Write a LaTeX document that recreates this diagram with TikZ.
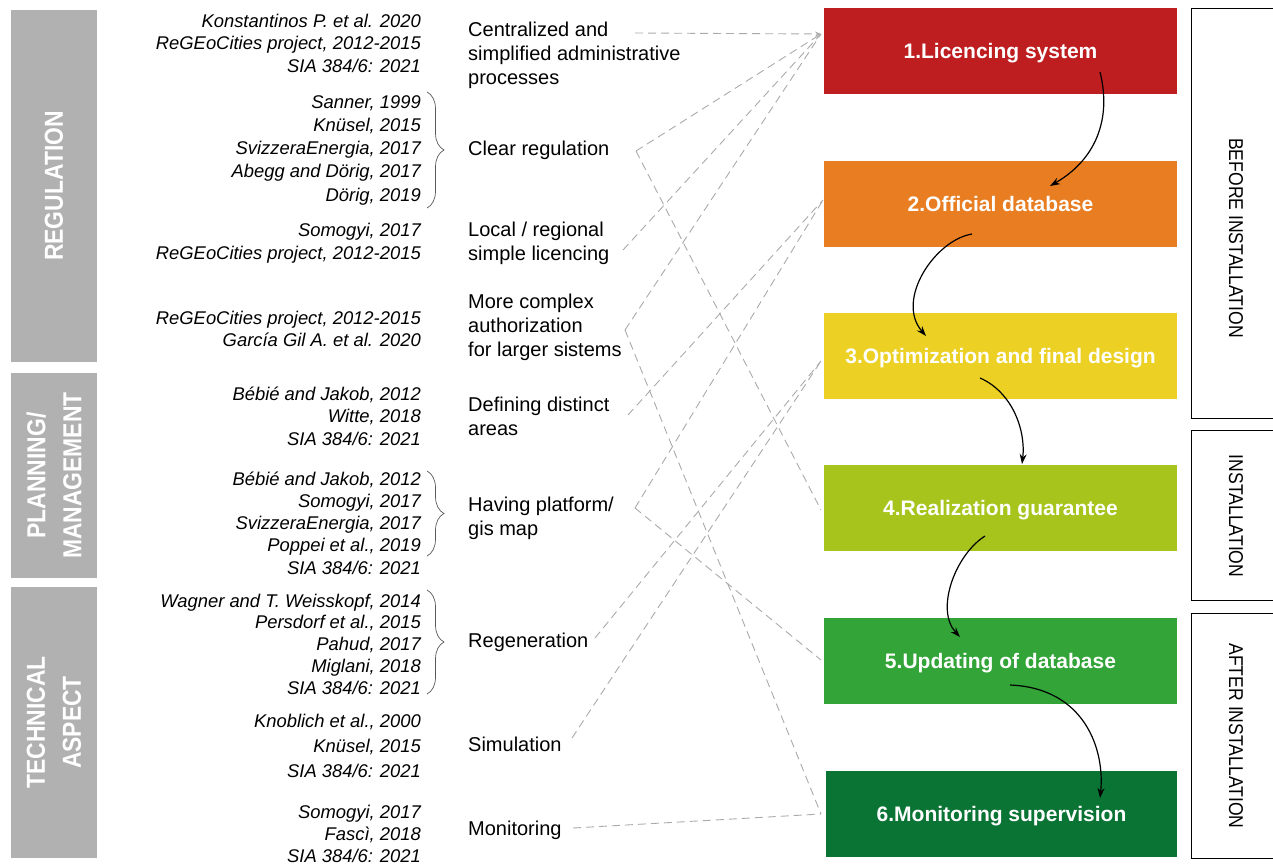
\documentclass[tikz,border=0pt]{standalone}
\usepackage{fontspec}
\setmainfont{Liberation Sans}
\newfontfamily\condfont[FakeStretch=0.88]{Liberation Sans}
\usetikzlibrary{decorations.pathreplacing,arrows.meta}
\definecolor{c1}{RGB}{190,30,32}
\definecolor{c2}{RGB}{232,125,34}
\definecolor{c3}{RGB}{236,208,36}
\definecolor{c4}{RGB}{166,196,28}
\definecolor{c5}{RGB}{50,164,56}
\definecolor{c6}{RGB}{10,116,52}
\definecolor{catgray}{RGB}{177,177,177}
\definecolor{dashgray}{RGB}{170,170,170}
\definecolor{bracegray}{RGB}{90,90,90}
\begin{document}
\begin{tikzpicture}[x=1pt,y=-1pt,
  catbox/.style={fill=catgray, text=white, font=\condfont\bfseries\fontsize{26}{31}\selectfont, align=center, minimum height=86pt, inner sep=0pt, rotate=90},
  stagebox/.style={minimum width=353pt, minimum height=86pt, text=white, font=\bfseries\fontsize{21}{24}\selectfont, inner sep=0pt, text depth=0pt},
  phaselbl/.style={font=\condfont\fontsize{20}{22}\selectfont, rotate=-90, inner sep=0pt},
  topictext/.style={anchor=west, align=left, font=\fontsize{20}{24}\selectfont, inner sep=0pt},
  refs/.style={anchor=east, align=right, font=\itshape\fontsize{18.4}{22.5}\selectfont, inner sep=0pt},
  dashlink/.style={draw=dashgray, dash pattern=on 8pt off 5pt, line width=0.9pt},
  flowarrow/.style={-{Stealth[length=10pt,width=7pt]}, line width=1.2pt, black},
  bracestyle/.style={decorate, decoration={brace, amplitude=17pt, aspect=0.5}, draw=bracegray, line width=0.7pt}
]
\useasboundingbox (0,0) rectangle (1273,865);

% category boxes
\node[catbox, minimum width=352pt] (reg) at (54,186) {REGULATION};
\node[catbox, minimum width=205pt] (plan) at (54,475.5) {PLANNING/\\[5pt]MANAGEMENT};
\node[catbox, minimum width=271pt] (tech) at (54,722.5) {TECHNICAL\\[5pt]ASPECT};

% references
\node[refs] (r1) at (421,43) {Konstantinos P. et al. 2020\\ReGEoCities project, 2012-2015\\SIA 384/6: 2021};
\node[refs, font=\itshape\fontsize{18.4}{23.25}\selectfont] (r2) at (421,150) {Sanner, 1999\\Knüsel, 2015\\SvizzeraEnergia, 2017\\Abegg and Dörig, 2017\\Dörig, 2019};
\node[refs] (r3) at (421,243) {Somogyi, 2017\\ReGEoCities project, 2012-2015};
\node[refs, font=\itshape\fontsize{18.4}{22}\selectfont] (r4) at (421,328.5) {ReGEoCities project, 2012-2015\\García Gil A. et al. 2020};
\node[refs] (r5) at (421,416) {Bébié and Jakob, 2012\\Witte, 2018\\SIA 384/6: 2021};
\node[refs, font=\itshape\fontsize{18.4}{22.25}\selectfont] (r6) at (421,523) {Bébié and Jakob, 2012\\Somogyi, 2017\\SvizzeraEnergia, 2017\\Poppei et al., 2019\\SIA 384/6: 2021};
\node[refs, font=\itshape\fontsize{18.4}{21.75}\selectfont] (r7) at (421,644) {Wagner and T. Weisskopf, 2014\\Persdorf et al., 2015\\Pahud, 2017\\Miglani, 2018\\SIA 384/6: 2021};
\node[refs, font=\itshape\fontsize{18.4}{25}\selectfont] (r8) at (421,745.5) {Knoblich et al., 2000\\Knüsel, 2015\\SIA 384/6: 2021};
\node[refs, font=\itshape\fontsize{18.4}{22}\selectfont] (r9) at (421,833.5) {Somogyi, 2017\\Fascì, 2018\\SIA 384/6: 2021};

% braces
\coordinate (br2t) at (427,92);  \coordinate (br2b) at (427,208);
\coordinate (br6t) at (427,471); \coordinate (br6b) at (427,556);
\coordinate (br7t) at (427,590); \coordinate (br7b) at (427,694);
\draw[bracestyle] (br2t) -- (br2b);
\draw[bracestyle] (br6t) -- (br6b);
\draw[bracestyle] (br7t) -- (br7b);

% topics
\node[topictext] (t1) at (468,55) {Centralized and\\simplified administrative\\processes};
\node[topictext] (t2) at (468,150) {Clear regulation};
\node[topictext] (t3) at (468,243) {Local / regional\\simple licencing};
\node[topictext] (t4) at (468,327) {More complex\\authorization\\for larger sistems};
\node[topictext] (t5) at (468,416) {Defining distinct\\areas};
\node[topictext] (t6) at (468,518) {Having platform/\\gis map};
\node[topictext] (t7) at (468,642) {Regeneration};
\node[topictext] (t8) at (468,744) {Simulation};
\node[topictext] (t9) at (468,830) {Monitoring};

% stages
\node[stagebox, fill=c1] (s1) at (1000.5,51) {1.Licencing system};
\node[stagebox, fill=c2] (s2) at (1000.5,204) {2.Official database};
\node[stagebox, fill=c3] (s3) at (1000.5,356) {3.Optimization and final design};
\node[stagebox, fill=c4] (s4) at (1000.5,508) {4.Realization guarantee};
\node[stagebox, fill=c5] (s5) at (1000.5,661) {5.Updating of database};
\node[stagebox, fill=c6, minimum width=351pt] (s6) at (1001.5,814) {6.Monitoring supervision};

% phases
\draw[line width=0.9pt] (1310,8) -- (1191,8) -- (1191,418) -- (1310,418);
\draw[line width=0.9pt] (1310,430) -- (1191,430) -- (1191,600) -- (1310,600);
\draw[line width=0.9pt] (1310,613) -- (1191,613) -- (1191,858) -- (1310,858);
\node[phaselbl] (ph1) at (1236,238) {BEFORE INSTALLATION};
\node[phaselbl] (ph2) at (1236,516) {INSTALLATION};
\node[phaselbl] (ph3) at (1236,736) {AFTER INSTALLATION};

% link end points
\coordinate (pc) at (635,33);
\coordinate (pcr) at (636,151);
\coordinate (pl) at (623,250);
\coordinate (pm) at (625,330);
\coordinate (pd) at (628,415);
\coordinate (ph) at (635,508);
\coordinate (pr) at (595,638);
\coordinate (ps) at (572,738);
\coordinate (pmo) at (573,828);
\coordinate (b1in) at (821,34);
\coordinate (b2in) at (823,200);
\coordinate (b3in) at (821,361);
\coordinate (b4in) at (821,510);
\coordinate (b5in) at (821,660);
\coordinate (b6in) at (821,814);

\draw[dashlink, -{Stealth[length=6pt,width=5pt]}] (pc) -- (b1in);
\draw[dashlink] (pcr) -- (b1in);
\draw[dashlink] (pcr) -- (b4in);
\draw[dashlink] (pl) -- (b1in);
\draw[dashlink] (pm) -- (b1in);
\draw[dashlink] (pm) -- (b6in);
\draw[dashlink] (pd) -- (b2in);
\draw[dashlink] (ph) -- (b2in);
\draw[dashlink] (ph) -- (b5in);
\draw[dashlink] (pr) -- (b3in);
\draw[dashlink] (ps) -- (b3in);
\draw[dashlink] (pmo) -- (b6in);

% flow arrows
\coordinate (a1s) at (1100,72);  \coordinate (a1e) at (1050,186);
\coordinate (a2s) at (972,234);  \coordinate (a2e) at (926,336);
\coordinate (a3s) at (980,378);  \coordinate (a3e) at (1022,464);
\coordinate (a4s) at (985,536);  \coordinate (a4e) at (960,637);
\coordinate (a5s) at (1010,685); \coordinate (a5e) at (1100,798);
\draw[flowarrow] (a1s) .. controls (1112,120) and (1095,160) .. (a1e);
\draw[flowarrow] (a2s) .. controls (935,240) and (895,300) .. (a2e);
\draw[flowarrow] (a3s) .. controls (1012,392) and (1026,430) .. (a3e);
\draw[flowarrow] (a4s) .. controls (955,555) and (935,610) .. (a4e);
\draw[flowarrow] (a5s) .. controls (1085,688) and (1105,750) .. (a5e);
\end{tikzpicture}
\end{document}
